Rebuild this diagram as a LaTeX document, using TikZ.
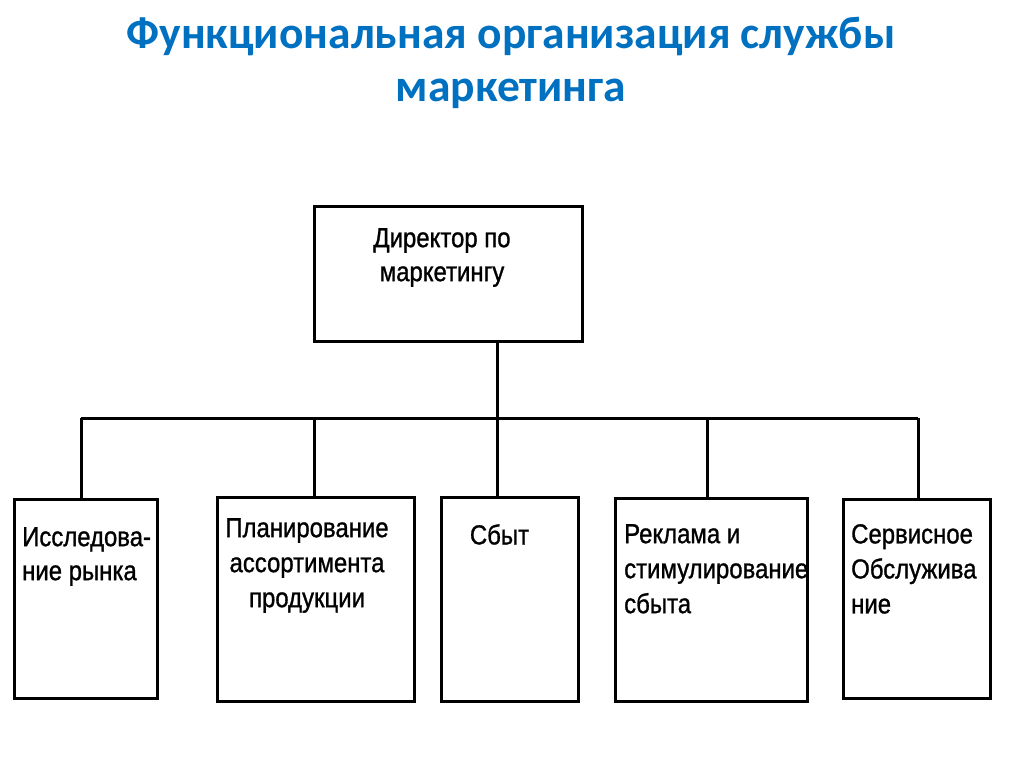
\documentclass[tikz,border=0pt]{standalone}
\usepackage{fontspec}
\usepackage{xcolor}
\usepackage{tikz}
\newfontfamily\titlefont{Carlito}
\newfontfamily\boxfont[FakeStretch=0.87, FakeBold=1]{Liberation Sans}
\definecolor{titleblue}{RGB}{0,112,192}
\tikzset{
	unit/.style = {draw=black, line width=3pt, minimum width=#1, inner sep=0pt},
	link/.style = {black, line width=3pt},
	caption/.style = {inner sep=0pt, font=\boxfont\fontsize{27.5}{34}\selectfont}
}

\begin{document}
\begin{tikzpicture}[x=1pt, y=-1pt]
		\useasboundingbox (0,0) rectangle (1024,767);

		\node[anchor=north, inner sep=0pt, align=center, text=titleblue,
			font=\titlefont\bfseries\fontsize{45.5}{53}\selectfont] (title) at (511, 17)
			{Функциональная организация службы\\маркетинга};

		\node[unit=268pt, minimum height=134pt] (dir) at (448, 274) {};
		\node[unit=143pt, minimum height=199pt] (res) at (85.5, 598.5) {};
		\node[unit=197pt, minimum height=204pt] (plan) at (315.5, 599) {};
		\node[unit=137pt, minimum height=204pt] (sale) at (509.5, 599) {};
		\node[unit=192pt, minimum height=203pt] (promo) at (711, 599.5) {};
		\node[unit=147pt, minimum height=199pt] (serv) at (916.5, 598.5) {};

		\node[caption, anchor=north, align=center] (dirtext) at (442, 228) {Директор по\\маркетингу};
		\node[caption, anchor=north west, align=left] (restext) at (22, 527) {Исследова-\\ние рынка};
		\node[caption, anchor=north, align=center, font=\boxfont\fontsize{27.5}{35}\selectfont] (plantext) at (307, 518) {Планирование\\ассортимента\\продукции};
		\node[caption, anchor=north] (saletext) at (499.5, 524) {Сбыт};
		\node[caption, anchor=north west, align=left, font=\boxfont\fontsize{27.5}{35}\selectfont] (promotext) at (624, 524) {Реклама и\\стимулирование\\сбыта};
		\node[caption, anchor=north west, align=left, font=\boxfont\fontsize{27.5}{35}\selectfont] (servtext) at (851, 524) {Сервисное\\Обслужива\\ние};

		\coordinate (t1) at (81, 418);
		\coordinate (t2) at (314, 418);
		\coordinate (t3) at (497, 418);
		\coordinate (t4) at (707, 418);
		\coordinate (t5) at (918, 418);

		\draw[link] (t1) -- (t5);
		\draw[link] (dir.south -| t3) -- (t3);
		\draw[link] (t1) -- (t1 |- res.north);
		\draw[link] (t2) -- (t2 |- plan.north);
		\draw[link] (t3) -- (t3 |- sale.north);
		\draw[link] (t4) -- (t4 |- promo.north);
		\draw[link] (t5) -- (t5 |- serv.north);
	\end{tikzpicture}
\end{document}
